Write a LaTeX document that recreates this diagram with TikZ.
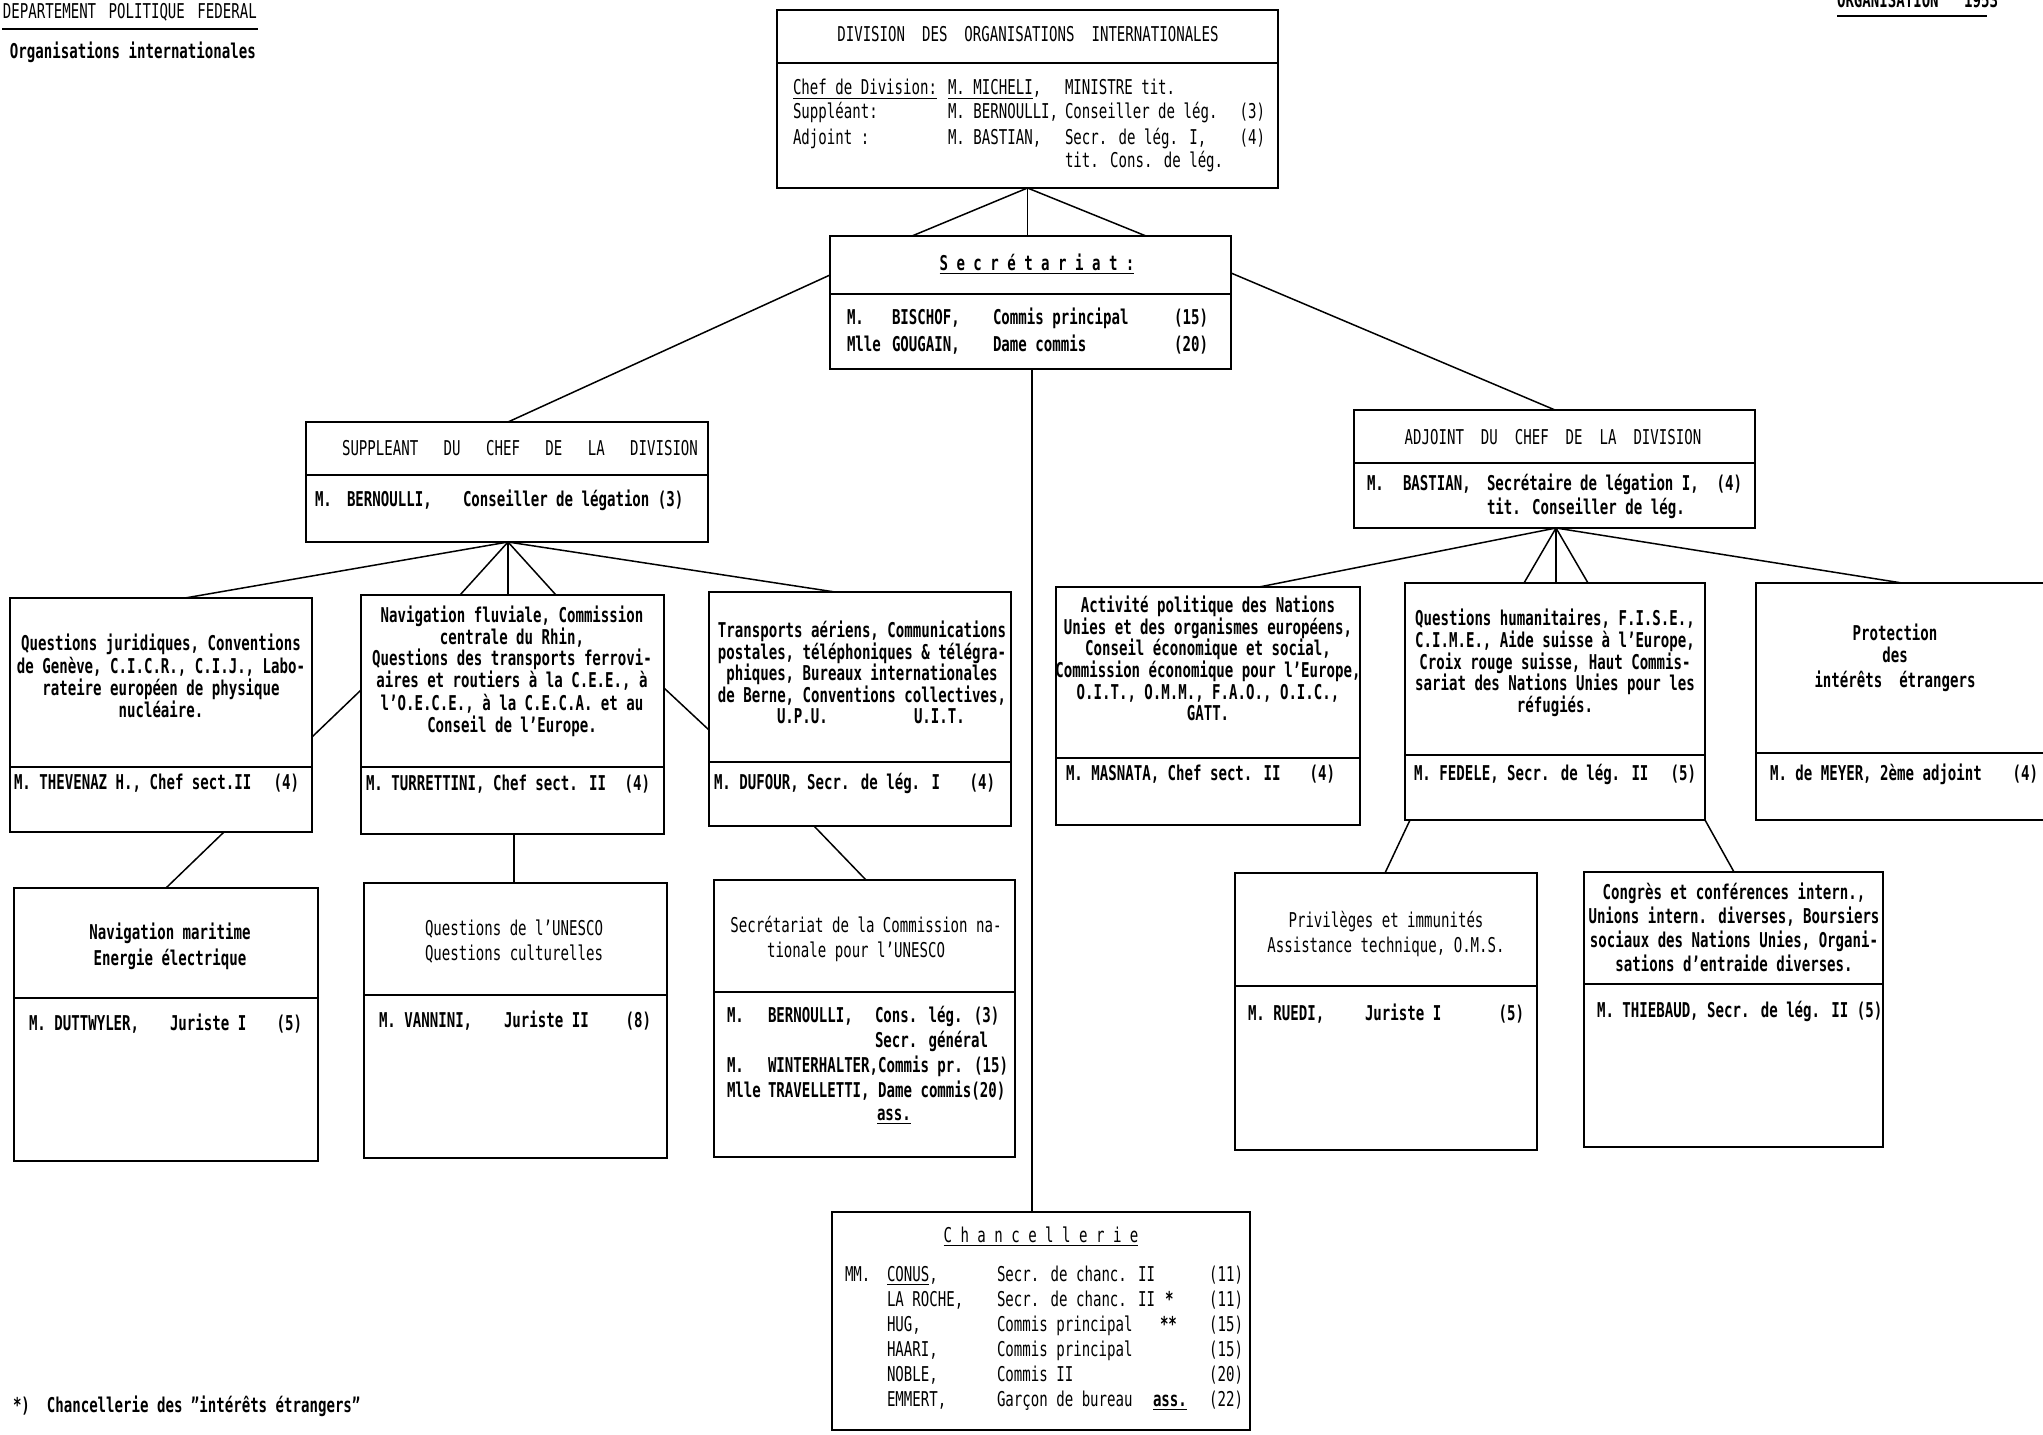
\documentclass[tikz,border=0pt]{standalone}
\usepackage{fontspec}
\setmainfont{DejaVu Sans Mono}[FakeStretch=0.69]
\usetikzlibrary{fit,calc}
\newcounter{tcnt}
\newcommand{\txl}[3]{\stepcounter{tcnt}\node[txt,anchor=base west] (t\arabic{tcnt}) at (#1,#2) {#3};}
\newcommand{\txc}[3]{\stepcounter{tcnt}\node[txt,anchor=base] (t\arabic{tcnt}) at (#1,#2) {#3};}
\newcommand{\txr}[3]{\stepcounter{tcnt}\node[txt,anchor=base east] (t\arabic{tcnt}) at (#1,#2) {#3};}
\newcommand{\bx}[6]{\node[box, fit={(#2,#3) (#4,#5)}] (#1) {};\draw[boxline] (#2,#6) -- (#4,#6);}
\tikzset{
  txt/.style={font=\fontsize{10.2}{11}\selectfont\bfseries, inner sep=0pt, outer sep=0pt},
  box/.style={draw, line width=1.1pt, inner sep=0pt, outer sep=0pt},
  boxline/.style={line width=1.1pt},
  conn/.style={line width=0.75pt},
}
\begin{document}
\begin{tikzpicture}[x=0.5pt,y=-0.5pt]
\useasboundingbox (0,0) rectangle (2043,1434);
\clip (0,0) rectangle (2043,1434);
\fill[white] (0,0) rectangle (2043,1434);

% header
\txl{3}{19}{\mdseries DEPARTEMENT~\kern2pt POLITIQUE~\kern2pt FEDERAL}
\draw[line width=1pt] (2,29) -- (258,29);
\txl{10}{59}{Organisations internationales}
\txl{1837}{8}{ORGANISATION~~~1953}
\draw[line width=1pt] (1837,16) -- (1987,16);

% boxes
\bx{top}{777}{10}{1278}{188}{63}
\bx{sec}{830}{236}{1231}{369}{294}
\bx{sup}{306}{422}{708}{542}{475}
\bx{adj}{1354}{410}{1755}{528}{463}
\bx{jur}{10}{598}{312}{832}{767}
\bx{fluv}{361}{595}{664}{834}{767}
\bx{transp}{709}{592}{1011}{826}{762}
\bx{mar}{14}{888}{318}{1161}{998}
\bx{unes}{364}{883}{667}{1158}{995}
\bx{comm}{714}{880}{1015}{1157}{992}
\bx{act}{1056}{587}{1360}{825}{758}
\bx{hum}{1405}{583}{1705}{820}{755}
\bx{prot}{1756}{583}{2080}{820}{753}
\bx{priv}{1235}{873}{1537}{1150}{986}
\bx{cong}{1584}{872}{1883}{1147}{984}
\node[box, fit={(832,1212) (1250,1430)}] (chan) {};

% top box text
\txc{1028}{42}{\mdseries DIVISION~~DES~~ORGANISATIONS~~INTERNATIONALES}
\txl{793}{95}{\mdseries\underline{Chef de Division:}}
\txl{948}{95}{\mdseries\underline{M. MICHELI},}
\txl{1065}{95}{\mdseries MINISTRE tit.}
\txl{793}{119}{\mdseries Suppléant:}
\txl{948}{119}{\mdseries M. BERNOULLI,}
\txl{1065}{119}{\mdseries Conseiller de lég.}
\txr{1265}{119}{\mdseries (3)}
\txl{793}{144}{\mdseries Adjoint :}
\txl{948}{144}{\mdseries M. BASTIAN,}
\txl{1065}{144}{\mdseries Secr. de lég. I,}
\txr{1265}{144}{\mdseries (4)}
\txl{1065}{167}{\mdseries tit. Cons. de lég.}

% secretariat
\txc{1037}{270}{\underline{S~e~c~r~é~t~a~r~i~a~t~:}}
\txl{847}{324}{M.}\txl{892}{324}{BISCHOF,}\txl{993}{324}{Commis principal}\txr{1208}{324}{(15)}
\txl{847}{351}{Mlle}\txl{892}{351}{GOUGAIN,}\txl{993}{351}{Dame commis}\txr{1208}{351}{(20)}

% suppleant
\txc{520}{455}{\mdseries SUPPLEANT~~~DU~~~CHEF~~~DE~~~LA~~~DIVISION}
\txl{315}{506}{M.}\txl{347}{506}{BERNOULLI,}\txl{463}{506}{Conseiller de légation (3)}

% adjoint
\txc{1553}{444}{\mdseries ADJOINT~~DU~~CHEF~~DE~~LA~~DIVISION}
\txl{1367}{490}{M.}\txl{1403}{490}{BASTIAN,}\txl{1487}{490}{Secrétaire de légation I,}\txr{1742}{490}{(4)}
\txl{1487}{514}{tit. Conseiller de lég.}

% jur
\txc{161}{650}{Questions juridiques, Conventions}
\txc{161}{673}{de Genève, C.I.C.R., C.I.J., Labo-}
\txc{161}{695}{rateire européen de physique}
\txc{161}{717}{nucléaire.}
\txl{14}{789}{M. THEVENAZ H., Chef sect.II}\txr{299}{789}{(4)}

% fluv
\txc{512}{622}{Navigation fluviale, Commission}
\txc{512}{644}{centrale du Rhin,}
\txc{512}{665}{Questions des transports ferrovi-}
\txc{512}{687}{aires et routiers à la C.E.E., à}
\txc{512}{710}{l'O.E.C.E., à la C.E.C.A. et au}
\txc{512}{732}{Conseil de l'Europe.}
\txl{366}{790}{M. TURRETTINI, Chef sect. II}\txr{650}{790}{(4)}

% transp
\txc{862}{637}{Transports aériens, Communications}
\txc{862}{659}{postales, téléphoniques \& télégra-}
\txc{862}{680}{phiques, Bureaux internationales}
\txc{862}{702}{de Berne, Conventions collectives,}
\txl{777}{723}{U.P.U.}\txl{914}{723}{U.I.T.}
\txl{714}{789}{M. DUFOUR, Secr. de lég. I}\txr{995}{789}{(4)}

% mar
\txc{170}{939}{Navigation maritime}
\txc{170}{965}{Energie électrique}
\txl{29}{1030}{M. DUTTWYLER,}\txl{170}{1030}{Juriste I}\txr{302}{1030}{(5)}

% unesco
\txc{514}{935}{\mdseries Questions de l'UNESCO}
\txc{514}{960}{\mdseries Questions culturelles}
\txl{379}{1027}{M. VANNINI,}\txl{504}{1027}{Juriste II}\txr{651}{1027}{(8)}

% comm
\txc{866}{932}{\mdseries Secrétariat de la Commission na-}
\txc{856}{957}{\mdseries tionale pour l'UNESCO}
\txl{727}{1022}{M.}\txl{768}{1022}{BERNOULLI,}\txl{875}{1022}{Cons. lég. (3)}
\txl{875}{1047}{Secr. général}
\txl{727}{1072}{M.}\txl{768}{1072}{WINTERHALTER,Commis pr. (15)}
\txl{727}{1097}{Mlle}\txl{768}{1097}{TRAVELLETTI, Dame commis(20)}
\txl{877}{1120}{\underline{ass.}}

% act
\txc{1208}{612}{Activité politique des Nations}
\txc{1208}{634}{Unies et des organismes européens,}
\txc{1208}{655}{Conseil économique et social,}
\txc{1208}{677}{Commission économique pour l'Europe,}
\txc{1208}{699}{O.I.T., O.M.M., F.A.O., O.I.C.,}
\txc{1208}{720}{GATT.}
\txl{1066}{780}{M. MASNATA, Chef sect. II}\txr{1335}{780}{(4)}

% hum
\txc{1555}{625}{Questions humanitaires, F.I.S.E.,}
\txc{1555}{647}{C.I.M.E., Aide suisse à l'Europe,}
\txc{1555}{669}{Croix rouge suisse, Haut Commis-}
\txc{1555}{690}{sariat des Nations Unies pour les}
\txc{1555}{712}{réfugiés.}
\txl{1414}{780}{M. FEDELE, Secr. de lég. II}\txr{1696}{780}{(5)}

% prot
\txc{1895}{640}{Protection}
\txc{1895}{662}{des}
\txc{1895}{687}{intérêts~~étrangers}
\txl{1770}{780}{M. de MEYER, 2ème adjoint}\txr{2038}{780}{(4)}

% priv
\txc{1386}{927}{\mdseries Privilèges et immunités}
\txc{1386}{952}{\mdseries Assistance technique, O.M.S.}
\txl{1248}{1020}{M. RUEDI,}\txl{1365}{1020}{Juriste I}\txr{1524}{1020}{(5)}

% cong
\txc{1734}{899}{Congrès et conférences intern.,}
\txc{1734}{923}{Unions intern. diverses, Boursiers}
\txc{1734}{947}{sociaux des Nations Unies, Organi-}
\txc{1734}{971}{sations d'entraide diverses.}
\txl{1597}{1017}{M. THIEBAUD, Secr. de lég. II (5)}

% chancellerie
\txc{1041}{1242}{\mdseries\underline{C~h~a~n~c~e~l~l~e~r~i~e}}
\txl{845}{1281}{\mdseries MM.}\txl{887}{1281}{\mdseries\underline{CONUS},}\txl{997}{1281}{\mdseries Secr. de chanc. II}\txr{1243}{1281}{\mdseries (11)}
\txl{887}{1306}{\mdseries LA ROCHE,}\txl{997}{1306}{\mdseries Secr. de chanc. II}\txl{1165}{1306}{*}\txr{1243}{1306}{\mdseries (11)}
\txl{887}{1331}{\mdseries HUG,}\txl{997}{1331}{\mdseries Commis principal}\txl{1160}{1331}{**}\txr{1243}{1331}{\mdseries (15)}
\txl{887}{1356}{\mdseries HAARI,}\txl{997}{1356}{\mdseries Commis principal}\txr{1243}{1356}{\mdseries (15)}
\txl{887}{1381}{\mdseries NOBLE,}\txl{997}{1381}{\mdseries Commis II}\txr{1243}{1381}{\mdseries (20)}
\txl{887}{1406}{\mdseries EMMERT,}\txl{997}{1406}{\mdseries Garçon de bureau}\txl{1153}{1406}{\underline{ass.}}\txr{1243}{1406}{\mdseries (22)}

% footnote
\txl{13}{1412}{*)~~Chancellerie des "intérêts étrangers"}

% connectors
\coordinate (fa) at (912,236);
\coordinate (fb) at (1146,236);
\draw[conn] (top.south) -- (fa);
\draw[conn] (top.south) -- (top.south |- sec.north);
\draw[conn] (top.south) -- (fb);
\coordinate (secL) at (830,275);
\coordinate (supT) at (508,422);
\draw[conn] (secL) -- (supT);
\coordinate (secR) at (1231,273);
\coordinate (adjT) at (1555,410);
\draw[conn] (secR) -- (adjT);
\coordinate (secB) at (1032,369);
\coordinate (chanT) at (1032,1212);
\draw[conn] (secB) -- (chanT);
\coordinate (supB) at (508,542);
\coordinate (jurT) at (185,598);
\coordinate (fl1) at (460,595);
\coordinate (fl2) at (508,595);
\coordinate (fl3) at (556,595);
\coordinate (trT) at (835,592);
\draw[conn] (supB) -- (jurT);
\draw[conn] (supB) -- (fl1);
\draw[conn] (supB) -- (fl2);
\draw[conn] (supB) -- (fl3);
\draw[conn] (supB) -- (trT);
\coordinate (jurR) at (312,737);
\coordinate (fluvL) at (361,690);
\coordinate (fluvR) at (664,688);
\coordinate (trL) at (709,730);
\draw[conn] (jurR) -- (fluvL);
\draw[conn] (fluvR) -- (trL);
\coordinate (jurB) at (224,832);
\coordinate (marT) at (166,888);
\draw[conn] (jurB) -- (marT);
\coordinate (fluvB) at (514,834);
\coordinate (unT) at (514,883);
\draw[conn] (fluvB) -- (unT);
\coordinate (trB) at (814,826);
\coordinate (comT) at (866,880);
\draw[conn] (trB) -- (comT);
\coordinate (adjB) at (1556,528);
\coordinate (actT) at (1259,587);
\coordinate (h1) at (1524,583);
\coordinate (h2) at (1556,583);
\coordinate (h3) at (1588,583);
\coordinate (prT) at (1902,583);
\draw[conn] (adjB) -- (actT);
\draw[conn] (adjB) -- (h1);
\draw[conn] (adjB) -- (h2);
\draw[conn] (adjB) -- (h3);
\draw[conn] (adjB) -- (prT);
\coordinate (humBL) at (1410,820);
\coordinate (privT) at (1385,873);
\draw[conn] (humBL) -- (privT);
\coordinate (humBR) at (1705,820);
\coordinate (congT) at (1734,872);
\draw[conn] (humBR) -- (congT);
\end{tikzpicture}
\end{document}
